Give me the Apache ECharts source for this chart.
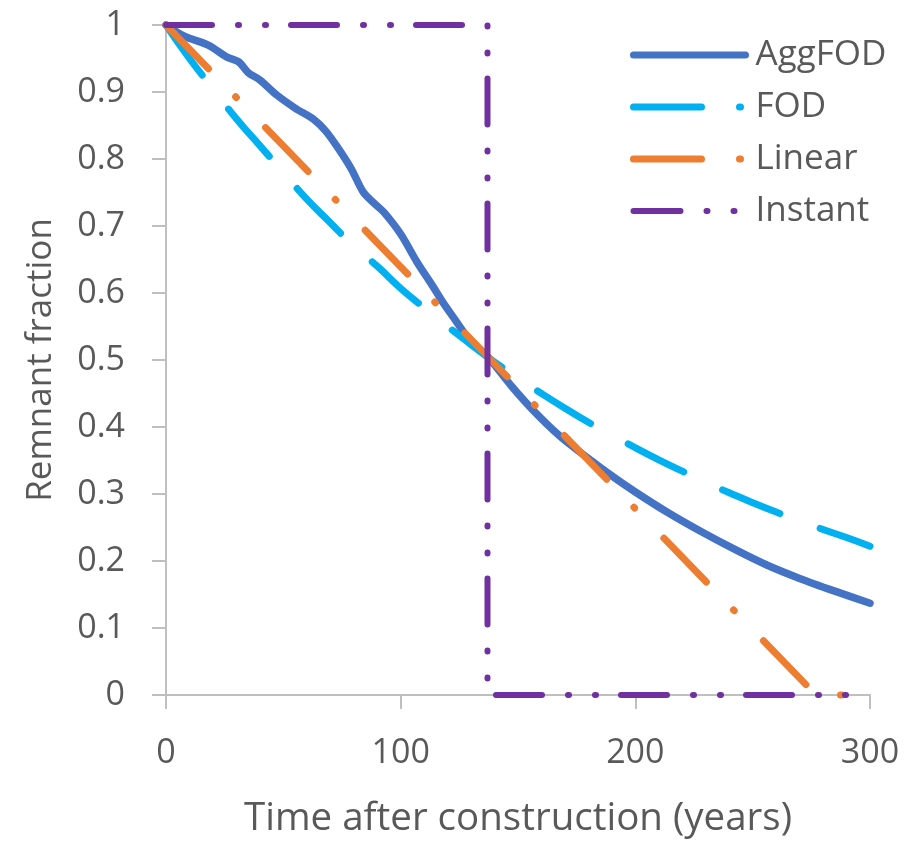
<!DOCTYPE html>
<html>
<head>
<meta charset="utf-8">
<script src="https://cdn.jsdelivr.net/npm/echarts@6/dist/echarts.min.js"></script>
<style>
  html, body { margin: 0; padding: 0; background: #fff; }
  #chart { width: 912px; height: 844px; }
</style>
</head>
<body>
<div id="chart"></div>
<script>
// 数据
const aggT = [0, 8, 18, 26, 31, 35, 40, 47, 55, 63, 68, 73, 79, 84, 89, 93, 100, 107, 113, 118, 123, 128, 133, 138, 147, 157, 168, 180, 190, 200, 214, 228, 242, 256, 270, 285, 300]
const aggV = [1, 0.983, 0.970, 0.952, 0.945, 0.929, 0.918, 0.896, 0.876, 0.859, 0.842, 0.818, 0.785, 0.751, 0.733, 0.72, 0.688, 0.646, 0.614, 0.586, 0.561, 0.536, 0.518, 0.501, 0.462, 0.423, 0.386, 0.353, 0.327, 0.303, 0.272, 0.244, 0.218, 0.194, 0.174, 0.155, 0.137]
const fodT = [0, 10, 20, 30, 40, 50, 60, 70, 80, 90, 100, 110, 120, 130, 140, 150, 160, 170, 180, 190, 200, 210, 220, 230, 240, 250, 260, 270, 280, 290, 300]
const fodV = [1, 0.95, 0.905, 0.86, 0.82, 0.78, 0.74, 0.705, 0.67, 0.64, 0.607, 0.578, 0.55, 0.523, 0.497, 0.473, 0.45, 0.428, 0.407, 0.388, 0.369, 0.351, 0.334, 0.317, 0.302, 0.287, 0.273, 0.26, 0.247, 0.235, 0.222]
const linT = [0, 277, 300]
const linV = [1, 0, 0]
const instT = [0, 137, 137, 300]
const instV = [1, 1, 0, 0]

const zip = (t, v) => t.map((x, i) => [x, v[i]])

const font = 'Open Sans'
const grey = '#595959'
const axisGrey = '#bfbfbf'

let myChart = echarts.init(document.getElementById('chart'))

myChart.setOption({
  animation: false,
  textStyle: { fontFamily: font },
  grid: { left: 166, right: 42, top: 25, bottom: 147 },
  legend: {
    orient: 'vertical',
    left: 625,
    top: 30,
    itemWidth: 112,
    itemHeight: 14,
    itemGap: 12,
    itemStyle: { opacity: 0 },
    lineStyle: { width: 7, cap: 'round' },
    textStyle: { fontSize: 35, color: grey, fontFamily: font, lineHeight: 40, padding: [0, 0, 0, 5] },
    data: [
      { name: 'AggFOD' },
      // 图例里的线型和图中略有不同
      { name: 'FOD', lineStyle: { type: [68, 38, 1, 50] } },
      { name: 'Linear', lineStyle: { type: [68, 38, 1, 50] } },
      { name: 'Instant', lineStyle: { width: 6, type: [47, 26, 1, 26, 1, 40] } }
    ]
  },
  xAxis: {
    type: 'value',
    min: 0,
    max: 300,
    interval: 100,
    name: 'Time after construction (years)',
    nameLocation: 'middle',
    nameGap: 105,
    nameTextStyle: { fontSize: 38.5, color: grey, fontFamily: font },
    axisLine: { show: true, lineStyle: { color: axisGrey, width: 2 } },
    axisTick: { show: true, length: 14, lineStyle: { color: axisGrey, width: 2 } },
    axisLabel: { fontSize: 34, color: grey, margin: 41, fontFamily: font },
    splitLine: { show: false }
  },
  yAxis: {
    type: 'value',
    min: 0,
    max: 1,
    interval: 0.1,
    name: 'Remnant fraction',
    nameLocation: 'middle',
    nameGap: 107,
    nameTextStyle: { fontSize: 35, color: grey, fontFamily: font },
    axisLine: { show: true, lineStyle: { color: axisGrey, width: 2 } },
    axisTick: { show: true, length: 14, lineStyle: { color: axisGrey, width: 2 } },
    axisLabel: { fontSize: 34, color: grey, margin: 41, fontFamily: font },
    splitLine: { show: false }
  },
  series: [
    {
      name: 'AggFOD',
      type: 'line',
      data: zip(aggT, aggV),
      showSymbol: false,
      symbol: 'none',
      smooth: 0.3,
      clip: false,
      color: '#4472C4',
      lineStyle: { color: '#4472C4', width: 7.5, cap: 'round', join: 'round' }
    },
    {
      name: 'FOD',
      type: 'line',
      data: zip(fodT, fodV),
      showSymbol: false,
      symbol: 'none',
      smooth: true,
      clip: false,
      color: '#00B0F0',
      lineStyle: { color: '#00B0F0', width: 7, type: [62, 43], cap: 'round', join: 'round' }
    },
    {
      name: 'Linear',
      type: 'line',
      data: zip(linT, linV),
      showSymbol: false,
      symbol: 'none',
      clip: false,
      color: '#ED7D31',
      lineStyle: { color: '#ED7D31', width: 7, type: [61, 39, 1, 42], cap: 'round', join: 'round' }
    },
    {
      name: 'Instant',
      type: 'line',
      data: zip(instT, instV),
      showSymbol: false,
      symbol: 'none',
      clip: false,
      color: '#7030A0',
      lineStyle: { color: '#7030A0', width: 6, type: [46, 26, 1, 26, 1, 25], cap: 'round', join: 'round' }
    }
  ]
})
</script>
</body>
</html>
